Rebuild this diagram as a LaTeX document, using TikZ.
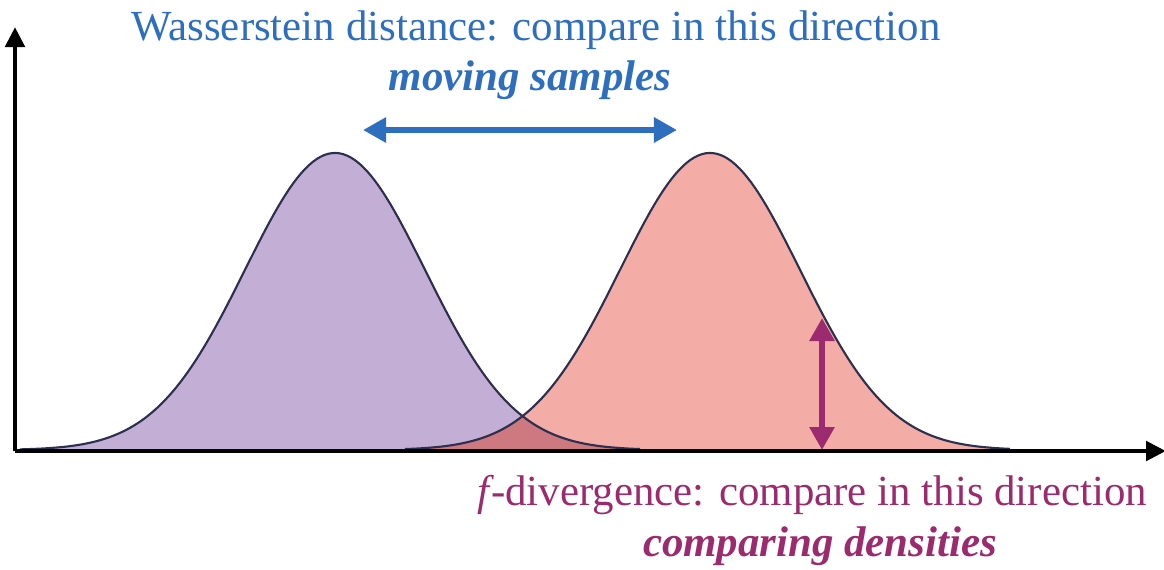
\documentclass[tikz,border=0pt]{standalone}
\usepackage{fontspec}
\setmainfont{Liberation Serif}
\usetikzlibrary{positioning,arrows.meta}
\definecolor{wblue}{HTML}{2E6EBF}
\definecolor{fpurp}{HTML}{9B2A6E}
\definecolor{pfill}{HTML}{C3AED6}
\definecolor{rfill}{HTML}{F4ACA6}
\definecolor{ofill}{HTML}{CE7880}
\definecolor{edge}{HTML}{2C2F4E}

\begin{document}
\begin{tikzpicture}[x=0.01cm,y=-0.01cm,font=\fontsize{12.2}{15}\selectfont,
  axis/.style={-{Triangle[length=0.2cm,width=0.19cm]},line width=1.4pt},
  dens/.style={draw=edge,line width=0.6pt},
  sub/.style={font=\fontsize{12.2}{15}\selectfont\bfseries\itshape},
  dbl/.style={{Triangle[length=0.23cm,width=0.24cm]}-{Triangle[length=0.23cm,width=0.24cm]},line width=1.75pt}]
\useasboundingbox (0,0) rectangle (1164,569);
\def\gp{plot[domain=20:640,samples=160] (\x,{450-297*exp(-0.5*((\x-335)/90)^2)})}
\def\gq{plot[domain=405:1010,samples=160] (\x,{450-297*exp(-0.5*((\x-710)/90)^2)})}
% densities
\fill[pfill] \gp -- cycle;
\fill[rfill] \gq -- cycle;
\begin{scope}
  \clip \gp -- cycle;
  \fill[ofill] \gq -- cycle;
\end{scope}
\draw[dens] \gp;
\draw[dens] \gq;
% axes
\coordinate (o) at (15,451);
\coordinate (ytop) at (15,27);
\coordinate (xend) at (1166,451);
\draw[axis] (o) -- (ytop);
\draw[axis] (o) -- (xend);
% wasserstein
\node[text=wblue] (wt) at (536,30) {Wasserstein distance: compare in this direction};
\node[text=wblue,sub] (ws) at (530,80) {moving samples};
\coordinate (wl) at (363,130);
\coordinate (wr) at (677,130);
\draw[dbl,wblue] (wl) -- (wr);
% f-divergence
\coordinate (dt) at (822,318);
\coordinate (db) at (822,450);
\draw[dbl,fpurp] (dt) -- (db);
\node[text=fpurp] (ft) at (812,495) {\textit{f}\kern-0.8pt-divergence: compare in this direction};
\node[text=fpurp,sub] (fs) at (820,546) {comparing densities};
\end{tikzpicture}
\end{document}
